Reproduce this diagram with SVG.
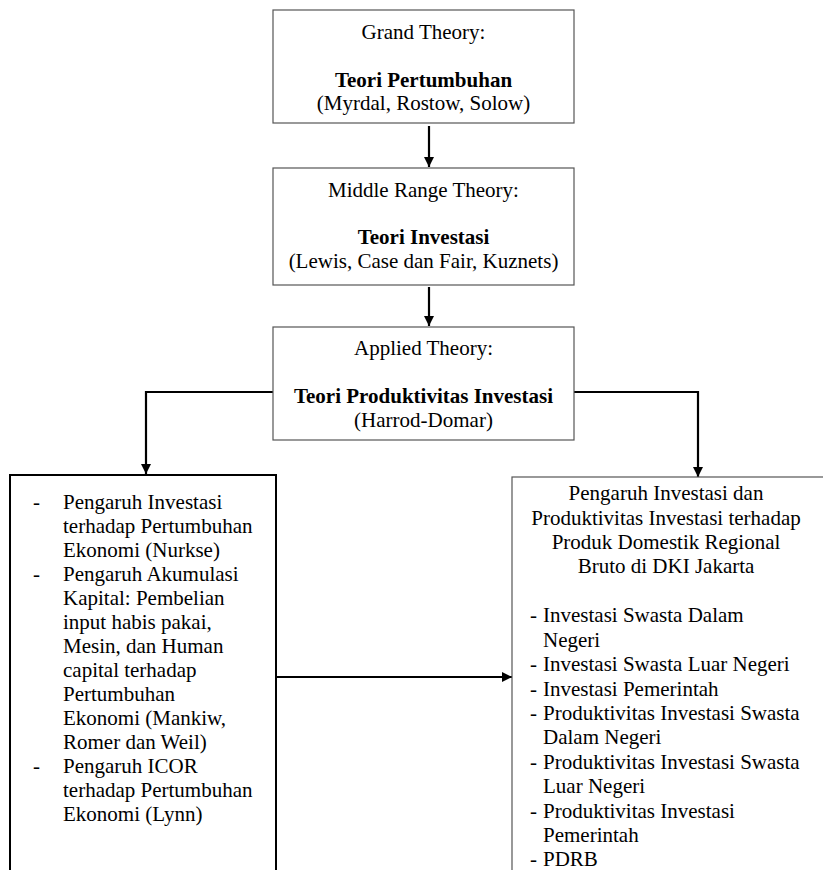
<svg xmlns="http://www.w3.org/2000/svg" width="823" height="870" viewBox="0 0 823 870">
<defs>
<marker id="ah" viewBox="0 0 10 10" refX="10" refY="5" markerWidth="10" markerHeight="10" markerUnits="userSpaceOnUse" orient="auto">
<path d="M0,0 L10,5 L0,10 Z" fill="#000"/>
</marker>
<style>
text{font-family:"Liberation Serif","Times New Roman",serif;font-size:21px;fill:#000}
.c{text-anchor:middle}
.b{font-weight:bold}
.box{fill:#fff;stroke:#555;stroke-width:1.2}
.boxk{fill:#fff;stroke:#000;stroke-width:2}
.con{fill:none;stroke:#000;stroke-width:2.2}
</style>
</defs>
<rect width="823" height="870" fill="#fff"/>
<g id="connectors">
<line class="con" x1="429" y1="126" x2="429" y2="167" marker-end="url(#ah)"/>
<line class="con" x1="429" y1="287" x2="429" y2="326" marker-end="url(#ah)"/>
<polyline class="con" points="273,392 146,392 146,474" marker-end="url(#ah)"/>
<polyline class="con" points="574,392 698,392 698,477" marker-end="url(#ah)"/>
<line class="con" x1="277" y1="677" x2="512" y2="677" marker-end="url(#ah)"/>
</g>
<g id="grand">
<rect class="box" x="273" y="10" width="301" height="113"/>
<text class="c" x="423.5" y="39">Grand Theory:</text>
<text class="c b" x="423.5" y="87">Teori Pertumbuhan</text>
<text class="c" x="423.5" y="110">(Myrdal, Rostow, Solow)</text>
</g>
<g id="middle">
<rect class="box" x="273" y="168" width="301" height="117"/>
<text class="c" x="423.5" y="197">Middle Range Theory:</text>
<text class="c b" x="423.5" y="244">Teori Investasi</text>
<text class="c" x="423.5" y="268">(Lewis, Case dan Fair, Kuznets)</text>
</g>
<g id="applied">
<rect class="box" x="273" y="327" width="301" height="113"/>
<text class="c" x="423.5" y="355">Applied Theory:</text>
<text class="c b" x="423.5" y="403">Teori Produktivitas Investasi</text>
<text class="c" x="423.5" y="427">(Harrod-Domar)</text>
</g>
<g id="left-box">
<rect class="boxk" x="10" y="475" width="266" height="400"/>
<text x="33" y="509">-</text><text x="63" y="509">Pengaruh Investasi</text>
<text x="63" y="533">terhadap Pertumbuhan</text>
<text x="63" y="557">Ekonomi (Nurkse)</text>
<text x="33" y="581">-</text><text x="63" y="581">Pengaruh Akumulasi</text>
<text x="63" y="605">Kapital: Pembelian</text>
<text x="63" y="629">input habis pakai,</text>
<text x="63" y="653">Mesin, dan Human</text>
<text x="63" y="677">capital terhadap</text>
<text x="63" y="701">Pertumbuhan</text>
<text x="63" y="725">Ekonomi (Mankiw,</text>
<text x="63" y="749">Romer dan Weil)</text>
<text x="33" y="773">-</text><text x="63" y="773">Pengaruh ICOR</text>
<text x="63" y="797">terhadap Pertumbuhan</text>
<text x="63" y="821">Ekonomi (Lynn)</text>
</g>
<g id="right-box">
<rect class="box" x="512" y="477" width="314" height="400"/>
<text class="c" x="666" y="500">Pengaruh Investasi dan</text>
<text class="c" x="666" y="525">Produktivitas Investasi terhadap</text>
<text class="c" x="666" y="549">Produk Domestik Regional</text>
<text class="c" x="666" y="573">Bruto di DKI Jakarta</text>
<text x="530" y="622">-</text><text x="543" y="622">Investasi Swasta Dalam</text>
<text x="543" y="647">Negeri</text>
<text x="530" y="671">-</text><text x="543" y="671">Investasi Swasta Luar Negeri</text>
<text x="530" y="696">-</text><text x="543" y="696">Investasi Pemerintah</text>
<text x="530" y="720">-</text><text x="543" y="720">Produktivitas Investasi Swasta</text>
<text x="543" y="744">Dalam Negeri</text>
<text x="530" y="769">-</text><text x="543" y="769">Produktivitas Investasi Swasta</text>
<text x="543" y="793">Luar Negeri</text>
<text x="530" y="818">-</text><text x="543" y="818">Produktivitas Investasi</text>
<text x="543" y="842">Pemerintah</text>
<text x="530" y="866">-</text><text x="543" y="866">PDRB</text>
</g>
</svg>
